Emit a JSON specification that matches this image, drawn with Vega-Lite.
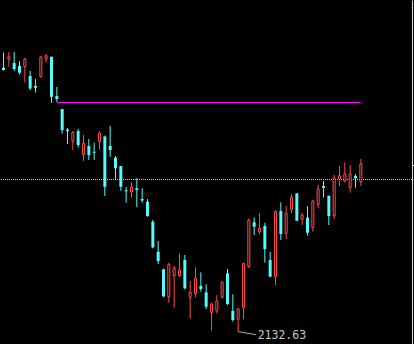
{
  "$schema": "https://vega.github.io/schema/vega-lite/v6.json",
  "width": 412,
  "height": 344,
  "autosize": {"type": "none"},
  "padding": {"left": 0, "top": 0, "right": 2, "bottom": 0},
  "background": "#000000",
  "config": {"view": {"stroke": null}},
  "datasets": {
    "k": [
      {"i":0,"o":2396.6,"h":2411.6,"l":2393.6,"c":2394.3},
      {"i":1,"o":2405.3,"h":2412.3,"l":2397.6,"c":2407.6},
      {"i":2,"o":2401.3,"h":2412.3,"l":2393.3,"c":2395.3},
      {"i":3,"o":2398.3,"h":2403.3,"l":2389.8,"c":2391.6},
      {"i":4,"o":2397.6,"h":2406.3,"l":2381.8,"c":2405.3},
      {"i":5,"o":2388.3,"h":2393.3,"l":2374.3,"c":2375.8},
      {"i":6,"o":2378.3,"h":2385.3,"l":2371.8,"c":2376.6},
      {"i":7,"o":2387.8,"h":2408.3,"l":2386.6,"c":2407.3},
      {"i":8,"o":2405.3,"h":2410.3,"l":2401.8,"c":2408.6},
      {"i":9,"o":2407.6,"h":2407.6,"l":2361.3,"c":2367.6},
      {"i":10,"o":2368.3,"h":2377.3,"l":2362.3,"c":2365.3},
      {"i":11,"o":2355.3,"h":2355.3,"l":2330.8,"c":2334.3},
      {"i":12,"o":2334.8,"h":2336.3,"l":2320.3,"c":2333.3},
      {"i":13,"o":2323.6,"h":2333.3,"l":2314.3,"c":2331.8},
      {"i":14,"o":2333.3,"h":2335.3,"l":2316.6,"c":2319.3},
      {"i":15,"o":2309.8,"h":2329.3,"l":2303.3,"c":2321.3},
      {"i":16,"o":2318.3,"h":2325.3,"l":2304.3,"c":2309.3},
      {"i":17,"o":2312.6,"h":2321.6,"l":2304.3,"c":2311.6},
      {"i":18,"o":2322.6,"h":2333.0,"l":2314.6,"c":2331.3},
      {"i":19,"o":2327.8,"h":2328.8,"l":2268.3,"c":2277.6},
      {"i":20,"o":2318.3,"h":2338.3,"l":2307.6,"c":2314.3},
      {"i":21,"o":2306.6,"h":2308.3,"l":2285.3,"c":2296.0},
      {"i":22,"o":2298.3,"h":2298.3,"l":2273.6,"c":2277.6},
      {"i":23,"o":2274.0,"h":2277.3,"l":2261.6,"c":2273.0},
      {"i":24,"o":2272.3,"h":2282.3,"l":2266.6,"c":2277.3},
      {"i":25,"o":2276.0,"h":2286.3,"l":2257.0,"c":2274.3},
      {"i":26,"o":2265.3,"h":2276.0,"l":2261.6,"c":2263.8},
      {"i":27,"o":2262.6,"h":2265.3,"l":2247.6,"c":2248.3},
      {"i":28,"o":2242.6,"h":2244.3,"l":2216.0,"c":2217.0},
      {"i":29,"o":2212.6,"h":2223.3,"l":2200.3,"c":2203.3},
      {"i":30,"o":2195.0,"h":2195.6,"l":2167.0,"c":2168.0},
      {"i":31,"o":2167.6,"h":2201.6,"l":2161.6,"c":2200.0},
      {"i":32,"o":2188.6,"h":2198.3,"l":2156.8,"c":2196.0},
      {"i":33,"o":2188.8,"h":2211.0,"l":2187.6,"c":2194.3},
      {"i":34,"o":2204.3,"h":2209.3,"l":2174.8,"c":2176.0},
      {"i":35,"o":2167.0,"h":2183.3,"l":2145.8,"c":2172.0},
      {"i":36,"o":2171.0,"h":2197.0,"l":2167.0,"c":2186.0},
      {"i":37,"o":2178.3,"h":2192.0,"l":2172.6,"c":2175.3},
      {"i":38,"o":2172.0,"h":2180.0,"l":2155.3,"c":2157.6},
      {"i":39,"o":2152.0,"h":2161.6,"l":2133.6,"c":2160.3},
      {"i":40,"o":2153.6,"h":2169.3,"l":2151.0,"c":2163.3},
      {"i":41,"o":2167.0,"h":2183.3,"l":2166.0,"c":2182.0},
      {"i":42,"o":2191.0,"h":2195.3,"l":2159.3,"c":2160.3},
      {"i":43,"o":2153.3,"h":2170.0,"l":2142.6,"c":2144.3},
      {"i":44,"o":2145.0,"h":2156.6,"l":2132.63,"c":2155.3},
      {"i":45,"o":2157.0,"h":2201.6,"l":2145.0,"c":2201.0},
      {"i":46,"o":2197.8,"h":2245.8,"l":2196.3,"c":2244.3},
      {"i":47,"o":2242.0,"h":2247.0,"l":2229.3,"c":2237.6},
      {"i":48,"o":2232.6,"h":2251.3,"l":2230.0,"c":2236.0},
      {"i":49,"o":2238.3,"h":2241.6,"l":2201.6,"c":2215.3},
      {"i":50,"o":2204.3,"h":2212.3,"l":2187.3,"c":2187.6},
      {"i":51,"o":2187.6,"h":2253.8,"l":2179.3,"c":2253.0},
      {"i":52,"o":2253.3,"h":2262.0,"l":2224.3,"c":2230.3},
      {"i":53,"o":2231.0,"h":2258.3,"l":2225.3,"c":2251.0},
      {"i":54,"o":2255.0,"h":2270.3,"l":2251.0,"c":2267.0},
      {"i":55,"o":2271.0,"h":2271.0,"l":2243.6,"c":2243.6},
      {"i":56,"o":2245.0,"h":2251.6,"l":2239.3,"c":2249.3},
      {"i":57,"o":2246.6,"h":2258.3,"l":2228.6,"c":2231.6},
      {"i":58,"o":2237.0,"h":2264.3,"l":2232.6,"c":2263.3},
      {"i":59,"o":2260.0,"h":2279.3,"l":2256.0,"c":2275.3},
      {"i":60,"o":2278.3,"h":2283.3,"l":2266.8,"c":2276.6},
      {"i":61,"o":2268.6,"h":2268.6,"l":2239.3,"c":2248.3},
      {"i":62,"o":2248.6,"h":2289.3,"l":2245.3,"c":2286.0},
      {"i":63,"o":2285.3,"h":2298.3,"l":2278.3,"c":2288.6},
      {"i":64,"o":2283.3,"h":2302.0,"l":2282.0,"c":2290.3},
      {"i":65,"o":2276.6,"h":2299.3,"l":2271.6,"c":2290.3},
      {"i":66,"o":2288.3,"h":2290.3,"l":2276.6,"c":2286.0},
      {"i":67,"o":2282.6,"h":2305.3,"l":2278.3,"c":2300.3}
    ]
  },
  "layer": [
    {
      "data": {"values": [{"level": 2284.83}]},
      "mark": {"type": "rule", "color": "#c8c8c8", "strokeWidth": 1, "strokeDash": [1, 1]},
      "encoding": {
        "y": {
          "field": "level", "type": "quantitative",
          "scale": {"domain": [2120.33, 2464.33], "nice": false, "zero": false, "padding": 0},
          "axis": {"orient": "right", "labels": false, "ticks": true, "values": [2299.83], "tickSize": 2, "tickColor": "#e0e0e0", "domainColor": "#e0e0e0", "grid": false, "title": null}
        }
      }
    },
    {
      "data": {"values": [{"start": 10, "end": 67, "level": 2361.83}]},
      "mark": {"type": "rule", "color": "#ff00ff", "strokeWidth": 1},
      "encoding": {
        "x": {"field": "start", "type": "quantitative", "scale": {"domain": [-0.65625, 76.59375], "nice": false, "zero": false, "padding": 0}, "axis": null},
        "x2": {"field": "end"},
        "y": {"field": "level", "type": "quantitative"}
      }
    },
    {
      "data": {"name": "k"},
      "mark": {"type": "rule", "strokeWidth": 1},
      "encoding": {
        "x": {"field": "i", "type": "quantitative"},
        "y": {"field": "l", "type": "quantitative"},
        "y2": {"field": "h"},
        "color": {"condition": {"test": "datum.c >= datum.o", "value": "#ff4a4a"}, "value": "#54fcfc"}
      }
    },
    {
      "data": {"name": "k"},
      "transform": [{"filter": "datum.c < datum.o"}],
      "mark": {"type": "bar", "width": 3, "color": "#54fcfc"},
      "encoding": {
        "x": {"field": "i", "type": "quantitative"},
        "y": {"field": "o", "type": "quantitative"},
        "y2": {"field": "c"}
      }
    },
    {
      "data": {"name": "k"},
      "transform": [{"filter": "datum.c >= datum.o"}],
      "mark": {"type": "bar", "width": 2, "fill": "#000000", "stroke": "#ff4a4a", "strokeWidth": 1},
      "encoding": {
        "x": {"field": "i", "type": "quantitative"},
        "y": {"field": "o", "type": "quantitative"},
        "y2": {"field": "c"}
      }
    },
    {
      "data": {"values": [{"i": 44, "low": 2132.63, "label": "2132.63"}]},
      "mark": {"type": "rule", "color": "#b0b0b0", "strokeWidth": 1, "x2Offset": 18, "y2Offset": 3},
      "encoding": {
        "x": {"field": "i", "type": "quantitative"},
        "x2": {"field": "i"},
        "y": {"field": "low", "type": "quantitative"},
        "y2": {"field": "low"}
      }
    },
    {
      "data": {"values": [{"i": 44, "low": 2132.63, "label": "2132.63"}]},
      "mark": {"type": "text", "align": "left", "baseline": "alphabetic", "dx": 19.5, "dy": 7.6, "font": "DejaVu Sans Mono", "fontSize": 11.5, "color": "#c8c8c8"},
      "encoding": {
        "x": {"field": "i", "type": "quantitative"},
        "y": {"field": "low", "type": "quantitative"},
        "text": {"field": "label"}
      }
    }
  ]
}
